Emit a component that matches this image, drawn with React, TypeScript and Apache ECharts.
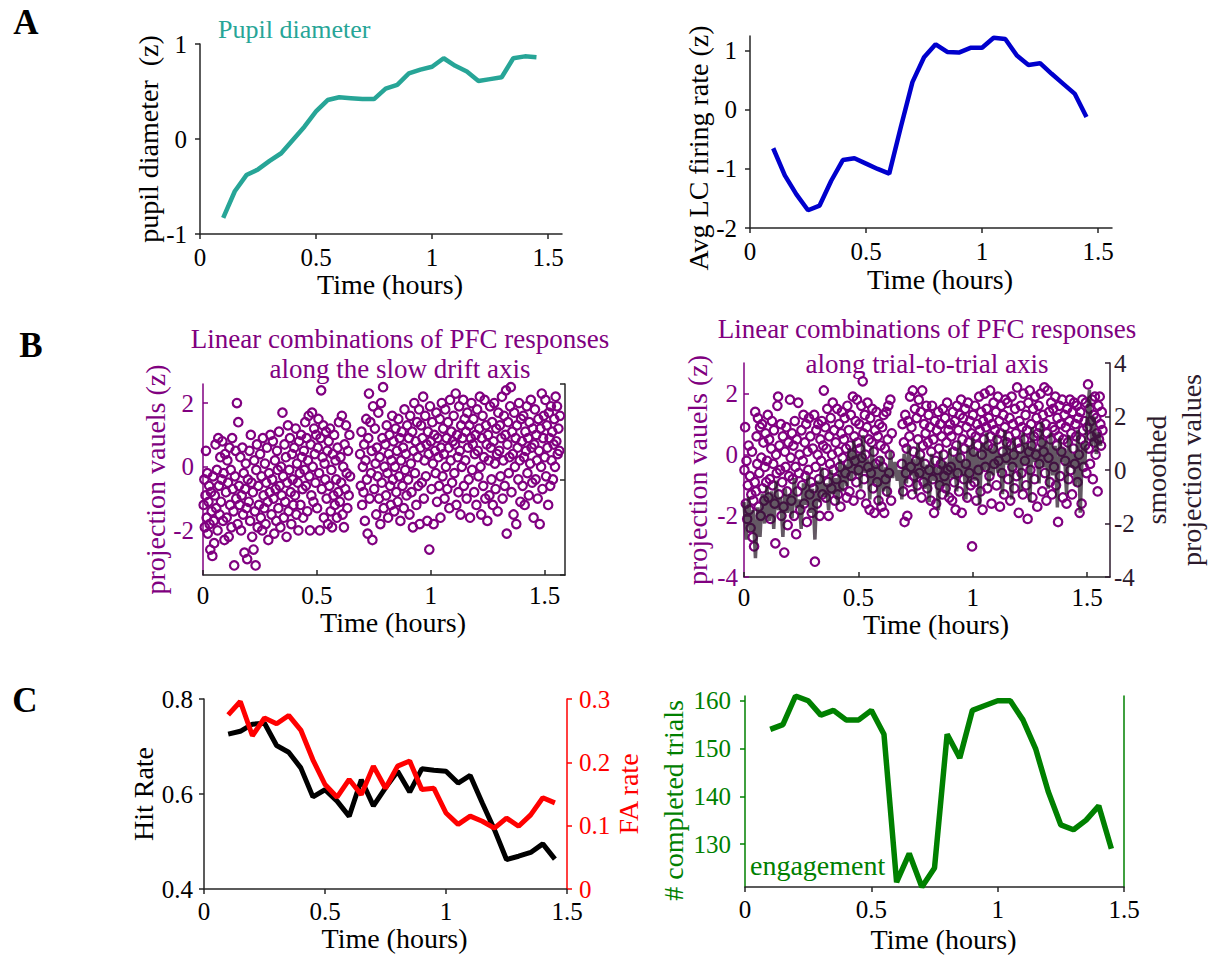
import React, { useEffect, useRef } from "react";
import * as echarts from "echarts";

const FONT = "Liberation Serif";
const DARK = "#262626";
const TEAL = "#27a597";
const BLUE = "#0000cd";
const PURPLE = "#800080";
const PLUM_DARK = "#2c1a2c";
const RED = "#ff0000";
const GREEN = "#008000";

// ---- Panel A / C: binned time courses (hours) ----
const binTimes = [0.1, 0.15, 0.2, 0.25, 0.3, 0.35, 0.4, 0.45, 0.5, 0.55, 0.6, 0.65, 0.7, 0.75, 0.8, 0.85, 0.9, 0.95, 1.0, 1.05, 1.1, 1.15, 1.2, 1.25, 1.3, 1.35, 1.4, 1.45];
const pupilDiameter = [-0.83, -0.55, -0.38, -0.32, -0.23, -0.15, -0.01, 0.13, 0.29, 0.41, 0.44, 0.43, 0.42, 0.42, 0.53, 0.57, 0.69, 0.73, 0.76, 0.85, 0.77, 0.71, 0.61, 0.63, 0.65, 0.85, 0.87, 0.86];
const lcFiringRate = [-0.65, -1.11, -1.43, -1.7, -1.62, -1.2, -0.85, -0.82, -0.91, -1.0, -1.08, -0.29, 0.47, 0.89, 1.11, 0.98, 0.97, 1.05, 1.05, 1.22, 1.2, 0.92, 0.76, 0.79, 0.61, 0.44, 0.27, -0.12];
const hitRate = [0.726, 0.732, 0.747, 0.749, 0.702, 0.688, 0.655, 0.594, 0.609, 0.585, 0.553, 0.63, 0.575, 0.613, 0.648, 0.604, 0.653, 0.65, 0.648, 0.623, 0.639, 0.581, 0.525, 0.462, 0.469, 0.477, 0.495, 0.463];
const faRate = [0.275, 0.296, 0.242, 0.27, 0.261, 0.274, 0.251, 0.204, 0.165, 0.145, 0.173, 0.149, 0.194, 0.159, 0.194, 0.202, 0.157, 0.159, 0.12, 0.102, 0.115, 0.107, 0.096, 0.112, 0.099, 0.117, 0.144, 0.136];
const completedTrials = [154, 155, 161, 160, 157, 158, 156, 156, 158, 153, 122, 128, 121, 125, 153, 148, 158, 159, 160, 160, 156, 150, 141, 134, 133, 135, 138, 129];

// ---- Panel B left: projections along slow drift axis [time, z] ----
const slowDriftProj = [
[0.003,-1.2],[0.006,-0.4],[0.008,-1.9],[0.011,-0.9],[0.013,0.5],[0.016,-1.6],[0.019,-0.2],[0.021,-2.1],[0.024,-1.1],[0.027,-0.6],[0.029,-1.8],[0.032,-2.6],[0.035,-0.8],[0.038,-1.4],[0.041,-2.8],[0.044,-0.3],[0.047,-1.7],[0.049,-2.4],
[0.052,-0.9],[0.055,0.7],[0.058,-1.3],[0.061,-0.1],[0.064,-2.0],[0.067,0.9],[0.07,-0.6],[0.073,-1.5],[0.076,0.3],[0.079,-1.1],[0.082,-0.4],[0.085,0.8],[0.088,-1.7],[0.091,-0.2],[0.094,-2.3],[0.097,0.4],
[0.101,-0.8],[0.104,-1.6],[0.107,0.2],[0.11,-0.5],[0.113,-2.2],[0.116,0.6],[0.119,-1.2],[0.122,-0.1],[0.125,-1.9],[0.128,0.9],[0.131,-0.7],[0.134,-1.4],[0.137,-3.1],[0.14,-0.3],[0.143,0.5],[0.146,-1.0],[0.149,2.0],
[0.152,-1.8],[0.155,1.4],[0.158,-0.6],[0.161,-1.2],[0.164,0.3],[0.167,-2.0],[0.17,-0.9],[0.173,0.6],[0.176,-1.5],[0.179,-0.2],[0.182,-2.7],[0.185,-0.7],[0.188,0.1],[0.191,-1.3],[0.194,-2.9],[0.197,-0.4],
[0.201,-1.1],[0.204,0.5],[0.207,-1.7],[0.21,1.0],[0.213,-0.5],[0.216,-2.2],[0.219,-0.8],[0.222,-2.6],[0.225,0.2],[0.228,-1.4],[0.231,-3.1],[0.234,-0.1],[0.237,0.7],[0.24,-1.9],[0.243,-0.6],[0.246,-1.2],
[0.251,0.4],[0.254,-1.6],[0.257,-0.3],[0.26,-2.0],[0.263,0.9],[0.266,-0.9],[0.269,-1.3],[0.272,0.1],[0.275,-1.8],[0.278,-0.5],[0.281,0.6],[0.284,-1.1],[0.287,-2.3],[0.29,-0.2],[0.293,-0.8],[0.296,1.0],
[0.301,-1.5],[0.304,-0.4],[0.307,0.8],[0.31,-1.0],[0.313,-2.1],[0.316,0.2],[0.319,-0.7],[0.322,-1.7],[0.325,0.5],[0.328,-0.1],[0.331,-1.3],[0.334,1.1],[0.337,-0.6],[0.34,-1.9],[0.343,0.0],[0.346,-0.9],[0.349,1.7],
[0.352,-0.3],[0.355,-1.6],[0.358,0.7],[0.361,-1.1],[0.364,0.3],[0.367,-2.2],[0.37,-0.5],[0.373,1.3],[0.376,-1.4],[0.379,-0.1],[0.382,0.9],[0.385,-0.8],[0.388,-1.8],[0.391,0.4],[0.394,-0.4],[0.397,-1.2],
[0.401,0.6],[0.404,-0.9],[0.407,1.2],[0.41,-1.5],[0.413,0.1],[0.416,-0.5],[0.419,-2.0],[0.422,0.8],[0.425,-0.2],[0.428,-1.2],[0.431,1.0],[0.434,0.3],[0.437,-0.7],[0.44,-1.6],[0.443,0.5],[0.446,-0.1],[0.449,1.4],
[0.452,-0.6],[0.455,0.9],[0.458,-1.4],[0.461,0.2],[0.464,1.6],[0.467,-0.3],[0.47,-2.0],[0.473,0.7],[0.476,-0.9],[0.479,1.7],[0.482,0.0],[0.485,-1.1],[0.488,1.2],[0.491,0.4],[0.494,-0.5],[0.497,1.0],
[0.501,-1.3],[0.504,0.6],[0.507,1.5],[0.51,-0.2],[0.513,-2.0],[0.516,0.9],[0.519,2.4],[0.522,-0.7],[0.525,0.3],[0.528,1.3],[0.531,-1.6],[0.534,0.1],[0.537,-0.4],[0.54,1.1],[0.543,-1.0],[0.546,0.5],[0.549,-1.8],
[0.552,0.8],[0.555,-0.6],[0.558,1.2],[0.561,-1.4],[0.564,-0.1],[0.567,-1.9],[0.57,0.4],[0.573,-0.9],[0.576,1.0],[0.579,-1.2],[0.582,0.2],[0.585,-0.4],[0.588,-1.6],[0.591,0.6],[0.594,-0.8],[0.597,1.4],
[0.601,-1.1],[0.604,0.3],[0.607,-0.5],[0.61,1.6],[0.613,-1.5],[0.616,0.0],[0.619,-1.9],[0.622,0.7],[0.625,-0.7],[0.628,1.3],[0.631,-0.2],[0.634,-1.3],[0.637,0.5],[0.64,-0.9],[0.643,1.0],[0.646,-0.3],
[0.69,0.4],[0.693,-0.6],[0.696,1.1],[0.699,-1.2],[0.702,0.0],[0.705,-0.8],[0.708,0.7],[0.711,-1.7],[0.714,0.2],[0.717,1.5],[0.72,-0.4],[0.723,-2.1],[0.726,0.9],[0.729,2.3],[0.732,-1.0],[0.735,1.4],[0.738,-0.2],[0.741,0.5],[0.744,-2.3],[0.747,1.9],
[0.752,-0.7],[0.755,1.2],[0.758,0.1],[0.761,-1.5],[0.764,0.6],[0.767,-0.3],[0.77,1.7],[0.773,-1.0],[0.776,0.3],[0.779,-1.8],[0.782,2.0],[0.785,-0.5],[0.788,0.9],[0.791,2.5],[0.794,-1.3],[0.797,0.0],
[0.801,0.7],[0.804,-0.9],[0.807,1.3],[0.81,-0.2],[0.813,-1.6],[0.816,0.4],[0.819,1.0],[0.822,-0.6],[0.825,-1.2],[0.828,0.2],[0.831,1.6],[0.834,-0.4],[0.837,0.8],[0.84,-1.4],[0.843,0.0],[0.846,1.2],[0.849,-0.8],
[0.852,0.5],[0.855,-1.1],[0.858,1.5],[0.861,-0.3],[0.864,0.9],[0.867,-1.7],[0.87,0.2],[0.873,1.1],[0.876,-0.6],[0.879,0.6],[0.882,-1.3],[0.885,1.8],[0.888,-0.1],[0.891,0.4],[0.894,-0.9],[0.897,1.3],
[0.901,-0.4],[0.904,0.9],[0.907,-1.5],[0.91,1.6],[0.913,0.1],[0.916,-0.8],[0.919,1.1],[0.922,-1.9],[0.925,0.5],[0.928,2.0],[0.931,-0.2],[0.934,0.8],[0.937,-1.2],[0.94,1.4],[0.943,0.3],[0.946,-0.6],[0.949,1.8],
[0.952,-1.8],[0.955,0.6],[0.958,1.3],[0.961,-0.5],[0.964,0.9],[0.967,2.2],[0.97,-1.0],[0.973,0.2],[0.976,1.6],[0.979,-0.3],[0.982,0.7],[0.985,-1.7],[0.988,1.1],[0.991,0.4],[0.994,-2.6],[0.997,1.9],
[1.001,0.8],[1.004,-0.7],[1.007,1.4],[1.01,0.1],[1.013,-1.8],[1.016,1.0],[1.019,0.5],[1.022,-0.2],[1.025,1.7],[1.028,-1.1],[1.031,0.9],[1.034,0.3],[1.037,-0.6],[1.04,1.5],[1.043,-1.6],[1.046,0.6],[1.049,2.0],
[1.052,-0.3],[1.055,1.2],[1.058,0.4],[1.061,-1.0],[1.064,1.8],[1.067,0.0],[1.07,0.9],[1.073,-0.7],[1.076,1.4],[1.079,0.6],[1.082,-1.3],[1.085,2.1],[1.088,0.2],[1.091,1.1],[1.094,-0.5],[1.097,0.8],
[1.101,1.6],[1.104,-0.2],[1.107,0.7],[1.11,2.3],[1.113,-1.2],[1.116,1.0],[1.119,0.3],[1.122,-0.8],[1.125,1.9],[1.128,0.5],[1.131,-1.5],[1.134,1.3],[1.137,0.0],[1.14,0.9],[1.143,2.1],[1.146,-0.6],[1.149,1.5],
[1.152,0.2],[1.155,1.1],[1.158,-1.0],[1.161,1.7],[1.164,0.6],[1.167,-0.4],[1.17,1.3],[1.173,-1.6],[1.176,0.9],[1.179,2.0],[1.182,-0.1],[1.185,0.7],[1.188,1.5],[1.191,-0.8],[1.194,0.4],[1.197,1.0],
[1.201,-1.2],[1.204,1.8],[1.207,0.5],[1.21,-0.3],[1.213,1.2],[1.216,2.2],[1.219,0.0],[1.222,-1.5],[1.225,0.9],[1.228,1.6],[1.231,-0.6],[1.234,0.3],[1.237,2.1],[1.24,-1.0],[1.243,1.3],[1.246,0.7],[1.249,-1.7],
[1.252,1.0],[1.255,0.2],[1.258,-0.9],[1.261,1.9],[1.264,0.6],[1.267,-0.4],[1.27,1.4],[1.273,-1.2],[1.276,0.8],[1.279,2.0],[1.282,0.1],[1.285,-0.7],[1.288,1.2],[1.291,0.4],[1.294,-1.4],[1.297,1.7],
[1.301,0.5],[1.304,1.3],[1.307,-0.3],[1.31,0.9],[1.313,2.2],[1.316,-1.0],[1.319,0.2],[1.322,1.6],[1.325,-0.6],[1.328,1.0],[1.331,2.4],[1.334,-2.1],[1.337,0.7],[1.34,1.4],[1.343,-0.2],[1.346,0.3],[1.349,1.9],
[1.352,2.5],[1.355,-0.8],[1.358,1.1],[1.361,0.4],[1.364,-1.5],[1.367,1.7],[1.37,0.0],[1.373,0.9],[1.376,-1.8],[1.379,1.3],[1.382,0.6],[1.385,-0.4],[1.388,2.0],[1.391,0.2],[1.394,-1.1],[1.397,1.5],
[1.401,0.8],[1.404,-0.6],[1.407,1.6],[1.41,0.3],[1.413,-1.2],[1.416,1.1],[1.419,0.5],[1.422,1.9],[1.425,-0.2],[1.428,0.9],[1.431,-0.9],[1.434,1.4],[1.437,0.1],[1.44,2.1],[1.443,0.6],[1.446,-0.5],[1.449,1.2],
[1.452,-1.6],[1.455,0.7],[1.458,1.8],[1.461,-0.4],[1.464,1.0],[1.467,0.2],[1.47,-1.0],[1.473,1.5],[1.476,0.5],[1.479,-1.8],[1.482,1.2],[1.485,0.0],[1.488,2.3],[1.491,-0.7],[1.494,0.9],[1.497,1.6],
[1.501,0.3],[1.504,2.1],[1.507,-0.3],[1.51,1.3],[1.513,0.6],[1.516,-1.2],[1.519,1.7],[1.522,0.9],[1.525,-0.6],[1.528,1.9],[1.531,0.2],[1.534,1.1],[1.537,-0.4],[1.54,0.7],[1.543,1.5],[1.546,0.0],[1.549,2.2],[1.552,0.8],[1.555,1.9],[1.558,0.4],[1.561,1.2],[1.565,0.5],[1.568,1.6]
];

// ---- Panel B right: projections along trial-to-trial axis [time, z] ----
const trialProj = [
[0.002,-0.5],[0.005,0.9],[0.008,-1.6],[0.011,-0.2],[0.014,-2.1],[0.017,-1.0],[0.02,0.3],[0.023,-1.8],[0.026,-0.7],[0.029,-2.4],[0.032,-1.3],[0.035,0.1],[0.038,-2.7],[0.041,-1.5],[0.044,-3.0],[0.047,-0.9],[0.049,1.4],
[0.052,-1.2],[0.055,0.6],[0.058,-0.3],[0.061,1.2],[0.064,-1.7],[0.067,-0.6],[0.07,0.9],[0.073,-2.0],[0.076,-0.1],[0.079,1.0],[0.082,-1.1],[0.085,0.4],[0.088,-1.5],[0.091,-0.4],[0.094,0.7],[0.097,-0.9],
[0.101,-0.2],[0.104,1.3],[0.107,-1.4],[0.11,0.5],[0.113,-0.8],[0.116,-2.1],[0.119,0.2],[0.122,1.1],[0.125,-1.0],[0.128,-0.3],[0.131,0.8],[0.134,-1.6],[0.137,-2.9],[0.14,0.0],[0.143,-0.6],[0.146,1.6],[0.149,1.9],
[0.152,-1.3],[0.155,0.3],[0.158,-0.5],[0.161,1.0],[0.164,-2.0],[0.167,-0.9],[0.17,0.6],[0.173,-1.7],[0.176,-3.2],[0.179,0.1],[0.182,-0.4],[0.185,0.9],[0.188,-1.2],[0.191,-2.3],[0.194,0.4],[0.197,-0.7],
[0.201,1.8],[0.204,-0.1],[0.207,-1.5],[0.21,0.7],[0.213,-0.8],[0.216,0.3],[0.219,-2.0],[0.222,1.1],[0.225,-0.4],[0.228,-2.6],[0.231,0.5],[0.234,-1.2],[0.237,1.7],[0.24,-0.6],[0.243,0.0],[0.246,-1.8],
[0.251,0.8],[0.254,-1.0],[0.257,-0.2],[0.26,1.3],[0.263,-1.6],[0.266,0.4],[0.269,-0.7],[0.272,1.0],[0.275,-2.2],[0.278,0.1],[0.281,-0.5],[0.284,1.2],[0.287,-1.3],[0.29,0.6],[0.293,-0.9],[0.296,-1.9],
[0.301,0.2],[0.304,-1.1],[0.307,1.3],[0.31,-3.5],[0.313,-0.4],[0.316,0.8],[0.319,-1.6],[0.322,0.0],[0.325,1.0],[0.328,-0.8],[0.331,-2.0],[0.334,0.5],[0.337,-0.2],[0.34,1.1],[0.343,-1.3],[0.346,0.3],[0.349,2.1],
[0.352,-0.6],[0.355,0.9],[0.358,-1.4],[0.361,0.2],[0.364,1.5],[0.367,-0.9],[0.37,-2.0],[0.373,0.6],[0.376,-0.3],[0.379,1.2],[0.382,-1.1],[0.385,0.0],[0.388,1.7],[0.391,-0.5],[0.394,0.8],[0.397,-1.5],
[0.401,0.4],[0.404,-0.8],[0.407,1.5],[0.41,-1.3],[0.413,0.1],[0.416,1.0],[0.419,-0.4],[0.422,-1.7],[0.425,0.7],[0.428,1.4],[0.431,-0.1],[0.434,-1.0],[0.437,0.5],[0.44,1.2],[0.443,-0.6],[0.446,0.2],[0.449,-1.4],
[0.452,1.6],[0.455,-0.3],[0.458,0.8],[0.461,-1.2],[0.464,0.3],[0.467,1.3],[0.47,-0.7],[0.473,0.0],[0.476,1.9],[0.479,-1.5],[0.482,0.6],[0.485,-0.2],[0.488,1.1],[0.491,-0.9],[0.494,1.8],[0.497,0.4],
[0.501,-0.5],[0.504,1.0],[0.507,0.2],[0.51,-1.3],[0.513,1.6],[0.516,-0.1],[0.519,2.4],[0.522,0.7],[0.525,-0.8],[0.528,1.3],[0.531,0.0],[0.534,-1.6],[0.537,0.9],[0.54,1.7],[0.543,-0.4],[0.546,0.5],[0.549,-1.8],
[0.552,1.2],[0.555,-0.6],[0.558,0.4],[0.561,1.5],[0.564,-1.1],[0.567,0.1],[0.57,-1.9],[0.573,0.8],[0.576,-0.3],[0.579,1.4],[0.582,-0.9],[0.585,0.6],[0.588,-1.5],[0.591,1.0],[0.594,-0.2],[0.597,0.3],
[0.601,-1.7],[0.604,0.9],[0.607,-0.4],[0.61,1.3],[0.613,-1.9],[0.616,0.2],[0.619,-0.8],[0.622,1.4],[0.625,-1.2],[0.628,0.5],[0.631,1.6],[0.634,-0.6],[0.637,0.0],[0.64,1.8],[0.643,-1.5],[0.646,0.7],
[0.69,-0.3],[0.693,1.0],[0.696,-1.2],[0.699,0.4],[0.702,-2.2],[0.705,1.3],[0.708,-0.6],[0.711,0.2],[0.714,-2.0],[0.717,1.1],[0.72,-0.9],[0.723,0.6],[0.726,1.9],[0.729,-0.4],[0.732,0.9],[0.735,-1.3],[0.738,2.1],[0.741,0.1],[0.744,-0.7],[0.747,1.5],
[0.752,-0.2],[0.755,1.2],[0.758,-1.0],[0.761,0.5],[0.764,1.8],[0.767,-0.6],[0.77,0.0],[0.773,1.4],[0.776,-1.4],[0.779,2.1],[0.782,0.3],[0.785,-0.9],[0.788,1.0],[0.791,-0.3],[0.794,0.7],[0.797,1.6],
[0.801,-1.1],[0.804,0.4],[0.807,1.3],[0.81,-0.5],[0.813,0.9],[0.816,-1.5],[0.819,0.1],[0.822,1.6],[0.825,-0.8],[0.828,0.5],[0.831,-1.9],[0.834,1.1],[0.837,-0.2],[0.84,-1.6],[0.843,0.8],[0.846,-0.5],[0.849,1.4],
[0.852,0.2],[0.855,-1.0],[0.858,1.0],[0.861,-0.3],[0.864,0.6],[0.867,-1.3],[0.87,1.5],[0.873,0.0],[0.876,-0.7],[0.879,1.2],[0.882,-1.1],[0.885,0.4],[0.888,1.7],[0.891,-0.5],[0.894,0.8],[0.897,-1.4],
[0.901,1.0],[0.904,-0.4],[0.907,0.6],[0.91,-1.5],[0.913,1.4],[0.916,0.1],[0.919,-0.9],[0.922,1.1],[0.925,-1.8],[0.928,0.3],[0.931,1.6],[0.934,-0.6],[0.937,0.8],[0.94,-1.2],[0.943,1.3],[0.946,-0.1],[0.949,1.8],
[0.952,-1.9],[0.955,0.5],[0.958,1.2],[0.961,-0.8],[0.964,0.2],[0.967,1.5],[0.97,-0.3],[0.973,0.9],[0.976,-1.4],[0.979,1.7],[0.982,0.4],[0.985,-0.6],[0.988,1.1],[0.991,-1.0],[0.994,0.7],[0.997,-3.0],
[1.001,1.3],[1.004,0.1],[1.007,-0.9],[1.01,1.6],[1.013,0.6],[1.016,-1.5],[1.019,1.0],[1.022,0.3],[1.025,-0.5],[1.028,1.9],[1.031,0.8],[1.034,-1.2],[1.037,1.4],[1.04,0.0],[1.043,-1.8],[1.046,1.1],[1.049,0.5],
[1.052,2.0],[1.055,-0.4],[1.058,0.9],[1.061,1.5],[1.064,-1.1],[1.067,0.3],[1.07,1.2],[1.073,-0.7],[1.076,2.1],[1.079,0.6],[1.082,-1.6],[1.085,1.0],[1.088,0.2],[1.091,1.7],[1.094,-0.3],[1.097,0.8],
[1.101,1.4],[1.104,-1.0],[1.107,0.5],[1.11,1.9],[1.113,-0.2],[1.116,1.1],[1.119,-1.7],[1.122,0.7],[1.125,1.6],[1.128,-0.6],[1.131,0.1],[1.134,1.3],[1.137,-1.3],[1.14,0.9],[1.143,1.8],[1.146,-0.1],[1.149,0.4],
[1.152,1.7],[1.155,-0.8],[1.158,0.6],[1.161,1.2],[1.164,-1.5],[1.167,0.3],[1.17,1.9],[1.173,-0.4],[1.176,1.0],[1.179,0.0],[1.182,-1.1],[1.185,1.5],[1.188,0.7],[1.191,-0.7],[1.194,2.2],[1.197,0.4],
[1.201,-1.9],[1.204,1.1],[1.207,0.2],[1.21,1.6],[1.213,-0.6],[1.216,0.9],[1.219,-1.3],[1.222,2.0],[1.225,0.5],[1.228,-0.2],[1.231,1.3],[1.234,-1.0],[1.237,0.8],[1.24,-2.1],[1.243,1.7],[1.246,0.1],[1.249,2.1],
[1.252,-0.5],[1.255,1.0],[1.258,0.3],[1.261,-1.4],[1.264,1.5],[1.267,0.6],[1.27,-0.8],[1.273,1.9],[1.276,0.0],[1.279,1.2],[1.282,-1.7],[1.285,0.7],[1.288,1.6],[1.291,-0.3],[1.294,0.9],[1.297,2.0],
[1.301,0.4],[1.304,-1.2],[1.307,1.3],[1.31,0.1],[1.313,2.2],[1.316,-0.6],[1.319,1.0],[1.322,-1.5],[1.325,0.7],[1.328,2.1],[1.331,-0.1],[1.334,1.4],[1.337,-0.9],[1.34,0.5],[1.343,1.7],[1.346,-1.3],[1.349,0.9],
[1.352,1.5],[1.355,-0.4],[1.358,0.8],[1.361,1.9],[1.364,-1.0],[1.367,0.3],[1.37,1.2],[1.373,-2.2],[1.376,0.6],[1.379,1.6],[1.382,-0.7],[1.385,1.0],[1.388,0.1],[1.391,1.8],[1.394,-1.4],[1.397,0.5],
[1.401,1.3],[1.404,-0.2],[1.407,0.9],[1.41,-1.6],[1.413,1.5],[1.416,0.4],[1.419,-0.8],[1.422,1.1],[1.425,1.8],[1.428,-0.5],[1.431,0.7],[1.434,-1.3],[1.437,1.4],[1.44,0.2],[1.443,1.7],[1.446,-0.3],[1.449,1.0],
[1.452,0.6],[1.455,1.6],[1.458,-0.9],[1.461,1.2],[1.464,0.0],[1.467,-1.9],[1.47,1.4],[1.473,0.5],[1.476,-1.6],[1.479,1.8],[1.482,0.8],[1.485,-0.4],[1.488,1.1],[1.491,0.3],[1.494,1.7],[1.497,-0.6],
[1.501,0.9],[1.504,2.3],[1.507,0.2],[1.51,1.5],[1.513,-0.3],[1.516,1.1],[1.519,0.6],[1.522,1.8],[1.525,-0.8],[1.528,1.3],[1.531,0.4],[1.534,1.9],[1.537,0.0],[1.54,1.2],[1.543,0.7],[1.546,-1.2],[1.549,1.6],[1.552,0.5],[1.555,1.9],[1.558,1.0],[1.561,0.3],[1.564,1.4],[1.567,0.8]
];

// smoothed projection values (right axis), one sample every SMOOTH_STEP hours from 0
const SMOOTH_STEP = 0.01;
const smoothedProj = [
-1.2,-2.6,-1.0,-2.3,-1.5,-3.3,-1.4,-2.5,-0.9,-2.0,
-0.6,-1.9,-0.8,-2.2,-0.4,-1.5,-1.0,-2.5,-0.7,-1.6,
-0.9,-1.8,-0.3,-1.4,-1.1,-2.2,-0.5,-1.3,-0.2,-1.6,
-0.7,-2.6,-0.4,-1.2,0.1,-1.0,-0.5,-1.5,0.0,-0.9,
-0.3,-1.3,0.4,-0.8,0.2,-0.6,0.8,-0.4,1.1,-0.2,
0.6,-0.7,1.3,-0.1,0.4,-1.1,0.9,-0.5,0.2,-1.3,
0.5,-0.8,0.1,-1.0,0.7,-0.3,0.3,-0.4,0.0,-1.1,
0.6,-0.5,0.9,-0.2,0.4,-0.9,1.0,-0.3,0.5,-0.7,
0.2,-1.2,0.6,-0.4,0.1,-1.5,0.7,-0.6,0.3,-1.0,
0.8,-0.3,0.5,-0.8,1.1,-0.2,0.4,-1.1,0.9,-0.5,
1.2,-0.4,0.7,-1.3,1.0,0.0,1.4,-0.6,0.8,-0.2,
1.3,-0.1,0.6,-0.9,1.5,0.2,0.9,-1.1,1.2,0.1,
0.7,-0.8,1.4,0.2,1.0,-1.2,1.6,0.3,0.8,-0.5,
1.8,0.1,1.1,-0.7,1.4,-0.2,0.9,-1.4,1.2,0.3,
0.8,-0.9,1.3,0.1,0.6,-0.6,1.5,-1.6,1.0,0.2,
1.9,3.0,0.9,2.0,0.6,1.4,0.9
];

const timeTicks = [0, 0.5, 1, 1.5];
const TICK_FS = 25;
const NAME_FS = 28;

function xAx(grid: number, max: number, inside: boolean, nameGap: number, labelMargin: number) {
  return {
    type: "value", gridIndex: grid, min: 0, max,
    name: "Time (hours)", nameLocation: "middle", nameGap,
    nameTextStyle: { fontFamily: FONT, fontSize: NAME_FS, color: "#000", padding: [0, 0, 0, 18] },
    axisLine: { show: true, onZero: false, lineStyle: { color: DARK, width: 1.5 } },
    axisTick: { show: true, inside, length: 5, customValues: timeTicks, lineStyle: { color: DARK, width: 1.5 } },
    axisLabel: { show: true, fontFamily: FONT, fontSize: TICK_FS, color: "#000", margin: labelMargin, customValues: timeTicks },
    splitLine: { show: false },
  };
}

function yAx(o: any) {
  return {
    type: "value", gridIndex: o.grid, position: o.position || "left", min: o.min, max: o.max,
    name: o.name || "", nameLocation: "middle", nameGap: o.nameGap ?? 30,
    nameTextStyle: { fontFamily: FONT, fontSize: NAME_FS, color: o.nameColor || o.color, padding: o.namePad || 0, lineHeight: o.nameLineHeight },
    axisLine: { show: true, onZero: false, lineStyle: { color: o.color, width: 1.5 } },
    axisTick: { show: o.showTicks !== false, inside: o.inside, length: 5, customValues: o.ticks, lineStyle: { color: o.color, width: 1.5 } },
    axisLabel: { show: o.showLabels !== false, fontFamily: FONT, fontSize: TICK_FS, color: o.labelColor || o.color, margin: o.margin, customValues: o.ticks },
    splitLine: { show: false },
  };
}

function pairs(xs: number[], ys: number[]) {
  return xs.map((x, i) => [x, ys[i]]);
}

function buildOption() {
  const grids = [
    { left: 200, top: 44, width: 362, height: 190 },
    { left: 750, top: 36, width: 362, height: 192 },
    { left: 203, top: 384, width: 362, height: 191 },
    { left: 744, top: 363, width: 366, height: 214 },
    { left: 204, top: 699, width: 363, height: 190 },
    { left: 745, top: 696, width: 379, height: 191 },
  ];
  const xAxis = [
    xAx(0, 1.56, false, 35, 11),
    xAx(1, 1.56, false, 37, 11),
    xAx(2, 1.59, true, 31, 8),
    xAx(3, 1.6, true, 30, 8),
    xAx(4, 1.5, false, 35, 10),
    xAx(5, 1.5, false, 38, 10),
  ];
  const scatterStyle = { color: "rgba(0,0,0,0)", borderColor: PURPLE, borderWidth: 2.2, opacity: 1 };
  const yAxis = [
    yAx({ grid: 0, min: -1, max: 1, ticks: [-1, 0, 1], color: DARK, labelColor: "#000", nameColor: "#000", name: "pupil diameter  (z)", nameGap: 33, inside: false, margin: 13 }),
    yAx({ grid: 1, min: -2, max: 1.25, ticks: [-2, -1, 0, 1], color: DARK, labelColor: "#000", nameColor: "#000", name: "Avg LC firing rate (z)", nameGap: 36, inside: false, margin: 13, namePad: [0, 32, 0, 0] }),
    yAx({ grid: 2, min: -3.4, max: 2.6, ticks: [-2, 0, 2], color: PURPLE, name: "projection vauels (z)", nameGap: 29, inside: true, margin: 9 }),
    yAx({ grid: 2, position: "right", min: -4, max: 4, ticks: [-4, 0, 4], color: DARK, inside: true, margin: 4, showLabels: false }),
    yAx({ grid: 3, min: -4, max: 3, ticks: [-4, -2, 0, 2], color: PURPLE, name: "projection vauels (z)", nameGap: 33, inside: true, margin: 6 }),
    yAx({ grid: 3, position: "right", min: -4, max: 4, ticks: [-4, -2, 0, 2, 4], color: PLUM_DARK, name: "smoothed\nprojection values", nameGap: 27, nameLineHeight: 35, inside: true, margin: 4 }),
    yAx({ grid: 4, min: 0.4, max: 0.8, ticks: [0.4, 0.6, 0.8], color: DARK, labelColor: "#000", nameColor: "#000", name: "Hit Rate", nameGap: 47, inside: false, margin: 11 }),
    yAx({ grid: 4, position: "right", min: 0, max: 0.3, ticks: [0, 0.1, 0.2, 0.3], color: RED, name: "FA rate", nameGap: 46, inside: false, margin: 12 }),
    yAx({ grid: 5, min: 121, max: 161, ticks: [130, 140, 150, 160], color: GREEN, name: "# completed trials", nameGap: 58, inside: false, margin: 14, namePad: [0, 18, 0, 0] }),
    yAx({ grid: 5, position: "right", min: 121, max: 161, ticks: [], color: GREEN, inside: false, margin: 4, showLabels: false, showTicks: false }),
  ];
  const lineBase = { type: "line", showSymbol: false, symbol: "none", silent: true };
  const series = [
    { ...lineBase, name: "pupil", xAxisIndex: 0, yAxisIndex: 0, data: pairs(binTimes, pupilDiameter), lineStyle: { color: TEAL, width: 4.5 }, itemStyle: { color: TEAL } },
    { ...lineBase, name: "LC", xAxisIndex: 1, yAxisIndex: 1, data: pairs(binTimes, lcFiringRate), lineStyle: { color: BLUE, width: 4.5 }, itemStyle: { color: BLUE } },
    { type: "scatter", name: "slow drift", xAxisIndex: 2, yAxisIndex: 2, data: slowDriftProj, symbol: "circle", symbolSize: 8.5, itemStyle: scatterStyle, silent: true },
    { type: "scatter", name: "trial-to-trial", xAxisIndex: 3, yAxisIndex: 4, data: trialProj, symbol: "circle", symbolSize: 8.5, itemStyle: scatterStyle, silent: true },
    { ...lineBase, name: "smoothed", xAxisIndex: 3, yAxisIndex: 5, data: smoothedProj.map((v, i) => [i * SMOOTH_STEP, v]), lineStyle: { color: "rgba(40,25,40,0.72)", width: 3.5 }, itemStyle: { color: "#444" }, z: 3 },
    { ...lineBase, name: "Hit Rate", xAxisIndex: 4, yAxisIndex: 6, data: pairs(binTimes, hitRate), lineStyle: { color: "#000", width: 5 }, itemStyle: { color: "#000" } },
    { ...lineBase, name: "FA rate", xAxisIndex: 4, yAxisIndex: 7, data: pairs(binTimes, faRate), lineStyle: { color: RED, width: 5 }, itemStyle: { color: RED } },
    { ...lineBase, name: "completed", xAxisIndex: 5, yAxisIndex: 8, data: pairs(binTimes, completedTrials), lineStyle: { color: GREEN, width: 5.5 }, itemStyle: { color: GREEN } },
  ];
  const letter = (t: string, x: number, y: number) => ({
    type: "text", x, y, style: { text: t, fontFamily: FONT, fontSize: 35, fontWeight: "bold", fill: "#000", align: "center", verticalAlign: "middle" },
  });
  const graphic = [
    letter("A", 26, 22),
    letter("B", 31, 345),
    letter("C", 25, 700),
    { type: "text", x: 218, y: 29, style: { text: "Pupil diameter", fontFamily: FONT, fontSize: 26, fill: TEAL, align: "left", verticalAlign: "middle" } },
    { type: "text", x: 400, y: 324, style: { text: "Linear combinations of PFC responses\nalong the slow drift axis", fontFamily: FONT, fontSize: 27, lineHeight: 30, fill: PURPLE, align: "center", verticalAlign: "top" } },
    { type: "text", x: 927, y: 311, style: { text: "Linear combinations of PFC responses\nalong trial-to-trial axis", fontFamily: FONT, fontSize: 27, lineHeight: 35, fill: PURPLE, align: "center", verticalAlign: "top" } },
    { type: "text", x: 750, y: 865, style: { text: "engagement", fontFamily: FONT, fontSize: 28, fill: GREEN, align: "left", verticalAlign: "middle" } },
  ];
  return {
    animation: false,
    backgroundColor: "#fff",
    textStyle: { fontFamily: FONT },
    grid: grids,
    xAxis,
    yAxis,
    series,
    graphic,
  };
}

export default function App() {
  const ref = useRef<HTMLDivElement>(null);
  useEffect(() => {
    if (!ref.current) return;
    const chart = echarts.init(ref.current, null, { renderer: "svg" });
    chart.setOption(buildOption() as any);
    return () => chart.dispose();
  }, []);
  return <div ref={ref} style={{ position: "fixed", left: 0, top: 0, width: 1225, height: 956, background: "#fff" }} />;
}
